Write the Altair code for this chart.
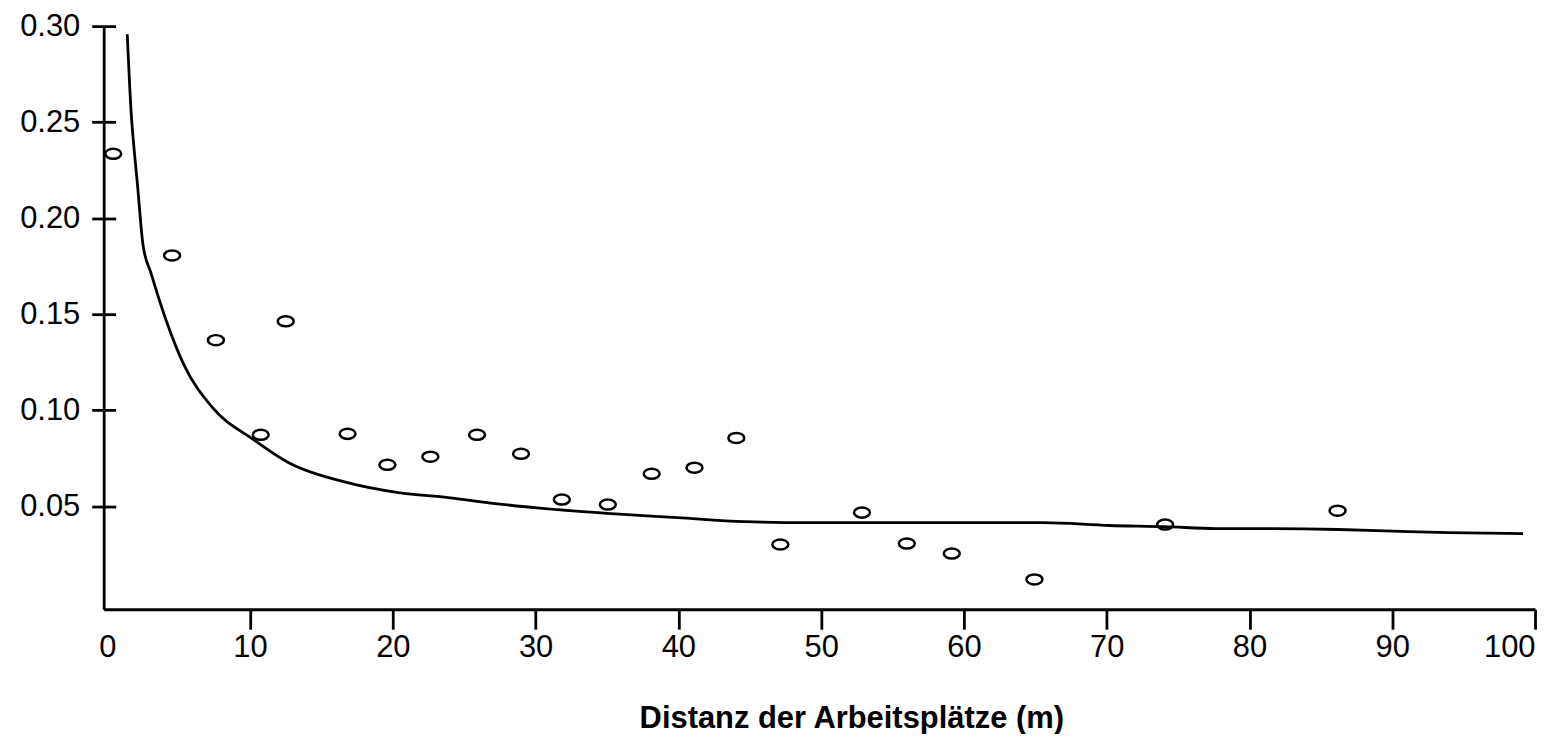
import altair as alt
import pandas as pd

# observed points: distance (m) vs. probability of communication
dist = [0.42, 4.54, 7.61, 12.5, 10.75, 16.83, 19.62, 22.63, 25.9, 28.98, 31.84,
        35.06, 38.13, 41.13, 44.06, 47.14, 52.86, 56.0, 59.15, 64.94, 74.09, 86.17]
prob = [0.2335, 0.1806, 0.1365, 0.1463, 0.0872, 0.0877, 0.0716, 0.0758, 0.0872,
        0.0773, 0.0535, 0.0509, 0.0669, 0.0701, 0.0856, 0.0301, 0.0467, 0.0306,
        0.0254, 0.0119, 0.0405, 0.0477]

# fitted curve
curve_x = [1.40, 1.68, 1.89, 2.09, 2.51, 3.07, 4.12, 5.38, 7.33, 10.27, 12.71,
           16.55, 20.39, 23.88, 27.16, 30.66, 35.27, 39.94, 44.62, 49.23, 53.91,
           60.89, 65.57, 70.18, 74.09, 77.65, 80.17, 86.24, 91.13, 93.92, 99.16]
curve_y = [0.2958, 0.2543, 0.2351, 0.2195, 0.1858, 0.1713, 0.1469, 0.1235, 0.1017,
           0.0846, 0.0727, 0.0628, 0.0571, 0.0545, 0.0514, 0.0488, 0.0462, 0.0441,
           0.0420, 0.0415, 0.0415, 0.0415, 0.0415, 0.0400, 0.0394, 0.0384, 0.0384,
           0.0379, 0.0368, 0.0363, 0.0358]

x_ticks = [0, 10, 20, 30, 40, 50, 60, 70, 80, 90, 100]
y_ticks = [0.05, 0.10, 0.15, 0.20, 0.25, 0.30]
x_title = "Distanz der Arbeitsplätze (m)"

pts_df = pd.DataFrame({"x": dist, "y": prob})
curve_df = pd.DataFrame({"x": curve_x, "y": curve_y})

FONT = "Liberation Sans"

xscale = alt.Scale(domain=[-0.25, 100], nice=False, zero=False)
yscale = alt.Scale(domain=[-0.0036, 0.30], nice=False, zero=False)

xaxis = alt.Axis(
    orient="bottom", values=x_ticks, grid=False, labelFont=FONT, labelFontSize=31,
    labelColor="black", labelPadding=3, labelFlush=False, tickSize=20, tickWidth=2.8,
    tickColor={"condition": {"test": "datum.value === 0", "value": "transparent"}, "value": "black"},
    labelAlign={"condition": {"test": "datum.value === 100", "value": "right"}, "value": "center"},
    domainColor="black", domainWidth=3, title=x_title, titleFont=FONT,
    titleFontSize=31, titleFontWeight="bold", titleColor="black",
    titleX=750, titleY=119, titleBaseline="alphabetic", titleAlign="center",
)

yaxis_main = alt.Axis(
    orient="left", values=y_ticks, format=".2f", grid=False, labelFont=FONT,
    labelFontSize=31, labelColor="black", labelPadding=12, tickSize=12,
    tickWidth=2.8, tickColor="black", domainColor="black", domainWidth=2.8,
    title=None,
)

yaxis_inner = alt.Axis(
    orient="left", values=y_ticks, grid=False, labels=False, domain=False,
    offset=-12, tickSize=12, tickWidth=2.8, tickColor="black", title=None,
)

ellipse = "M -1 0 A 1 0.63 0 1 1 1 0 A 1 0.63 0 1 1 -1 0 Z"

line = alt.Chart(curve_df).mark_line(
    color="black", strokeWidth=2.8, interpolate="monotone"
).encode(
    x=alt.X("x:Q", scale=xscale, axis=xaxis),
    y=alt.Y("y:Q", scale=yscale, axis=yaxis_main),
)

points = alt.Chart(pts_df).mark_point(
    shape=ellipse, filled=False, color="black", strokeWidth=2.5, size=256, opacity=1
).encode(
    x=alt.X("x:Q", scale=xscale, axis=xaxis),
    y=alt.Y("y:Q", scale=yscale, axis=yaxis_inner),
)

chart = alt.layer(line, points).resolve_axis(y="independent").properties(
    width=1436,
    height=585,
    autosize=alt.AutoSizeParams(type="none"),
    padding={"left": 96, "top": 17, "right": 10, "bottom": 124},
    background="white",
).configure_view(strokeWidth=0)

chart.save("out.html", embed_options={"renderer": "svg", "actions": False})
